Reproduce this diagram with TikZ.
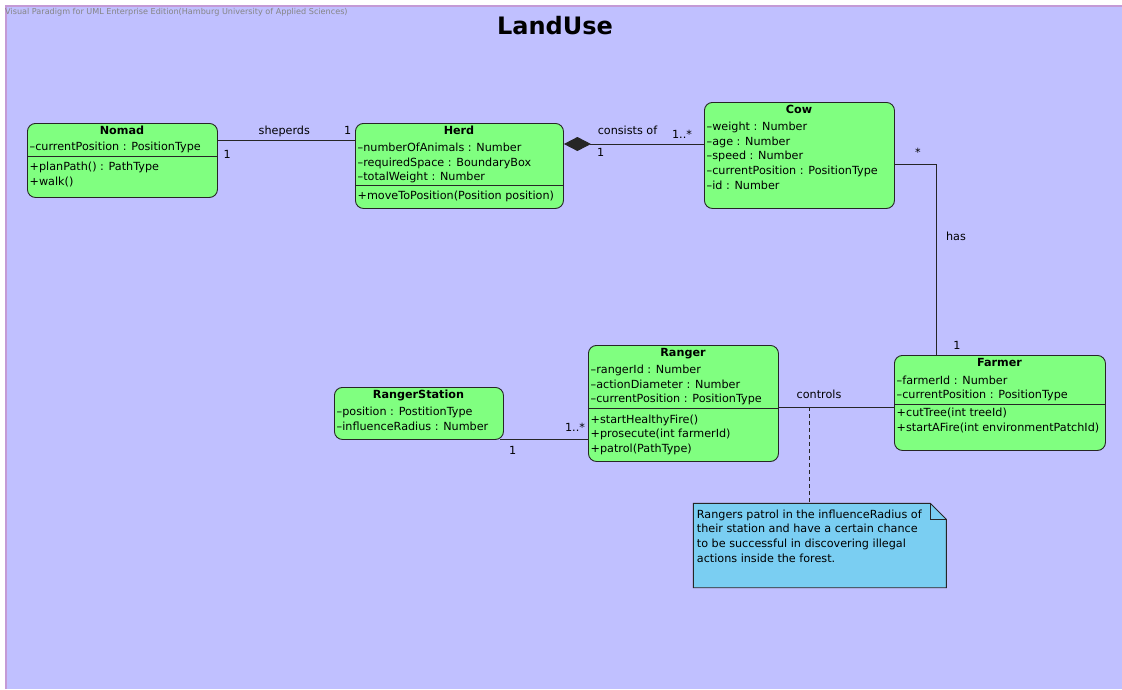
\documentclass[tikz,border=0pt]{standalone}
\usepackage{fontspec}
\setmainfont{DejaVu Sans}
\usetikzlibrary{arrows.meta,calc}

\definecolor{panelbg}{HTML}{C0C0FF}
\definecolor{panelrim}{HTML}{C49AD6}
\definecolor{classfill}{HTML}{80FF80}
\definecolor{notefill}{HTML}{7ACEF2}
\definecolor{inkline}{HTML}{262626}
\definecolor{marktext}{HTML}{858585}

% one text row per entry, 14.8pt apart, starting at the given baseline
\newcommand\umlrows[4]{%
  \foreach \rowtxt [count=\k] in {#4}{%
    \node[rowtext] (#1-\k) at ({#2},{#3+14.8*(\k-1)}) {\rowtxt};}}

\begin{document}
\begin{tikzpicture}[x=1pt,y=-1pt,
  classbox/.style={draw=inkline, fill=classfill, rounded corners=8pt,
    line width=0.9pt, inner sep=0pt, anchor=north west},
  rowtext/.style={font=\fontsize{11.2}{13}\selectfont, anchor=base west,
    inner sep=0pt, text=black},
  classname/.style={font=\bfseries\fontsize{11.2}{13}\selectfont, anchor=base,
    inner sep=0pt, text=black},
  rolelabel/.style={font=\fontsize{11.2}{13}\selectfont, anchor=base,
    inner sep=0pt, text=black},
  divider/.style={draw=inkline, line width=0.9pt},
  assoc/.style={draw=inkline, line width=0.9pt},
]
\useasboundingbox (0,0) rectangle (1122,689);
\fill[white] (0,0) rectangle (1122,689);

% diagram frame
\fill[panelbg] (6,6) rectangle (1122,689);
\draw[panelrim, line width=1.2pt] (6,689) -- (6,6) -- (1122,6);
\node[anchor=base west, inner sep=0pt, text=marktext,
  font=\fontsize{8.1}{10}\selectfont] (mark) at (5,14.5)
  {Visual Paradigm for UML Enterprise Edition(Hamburg University of Applied Sciences)};
\node[anchor=base, inner sep=0pt, font=\bfseries\fontsize{24}{28}\selectfont]
  (title) at (555,34.5) {LandUse};

% ---------- Nomad ----------
\node[classbox, minimum width=190pt, minimum height=74pt] (nomad) at (27,123) {};
\node[classname] (nomad-t) at (122,134) {Nomad};
\umlrows{nomad-a}{29.5}{150.5}{–currentPosition : PositionType}
\path (nomad.north west) ++(0,33.7) coordinate (nomad-s);
\draw[divider] (nomad-s) -- (nomad-s -| nomad.east);
\umlrows{nomad-m}{29.5}{170.3}{+planPath() : PathType,+walk()}

% ---------- Herd ----------
\node[classbox, minimum width=208pt, minimum height=85pt] (herd) at (355,123) {};
\node[classname] (herd-t) at (459,134) {Herd};
\umlrows{herd-a}{357.5}{151.3}{–numberOfAnimals : Number,–requiredSpace : BoundaryBox,–totalWeight : Number}
\path (herd.north west) ++(0,62.7) coordinate (herd-s);
\draw[divider] (herd-s) -- (herd-s -| herd.east);
\umlrows{herd-m}{357.5}{199.7}{+moveToPosition(Position position)}

% ---------- Cow ----------
\node[classbox, minimum width=190pt, minimum height=106pt] (cow) at (704,102) {};
\node[classname] (cow-t) at (799,113.4) {Cow};
\umlrows{cow-a}{706.5}{130.2}{–weight : Number,–age : Number,–speed : Number,–currentPosition : PositionType,–id : Number}

% ---------- Ranger ----------
\node[classbox, minimum width=190pt, minimum height=116pt] (ranger) at (588,345) {};
\node[classname] (ranger-t) at (683,356.7) {Ranger};
\umlrows{ranger-a}{590.5}{373.3}{–rangerId : Number,–actionDiameter : Number,–currentPosition : PositionType}
\path (ranger.north west) ++(0,63.3) coordinate (ranger-s);
\draw[divider] (ranger-s) -- (ranger-s -| ranger.east);
\umlrows{ranger-m}{590.5}{423}{+startHealthyFire(),+prosecute(int farmerId),+patrol(PathType)}

% ---------- RangerStation ----------
\node[classbox, minimum width=169pt, minimum height=52pt] (station) at (334,387) {};
\node[classname] (station-t) at (418.5,398.3) {RangerStation};
\umlrows{station-a}{336.5}{415.7}{–position : PostitionType,–influenceRadius : Number}

% ---------- Farmer ----------
\node[classbox, minimum width=211pt, minimum height=95pt] (farmer) at (894,355) {};
\node[classname] (farmer-t) at (999.5,366.7) {Farmer};
\umlrows{farmer-a}{896.5}{384}{–farmerId : Number,–currentPosition : PositionType}
\path (farmer.north west) ++(0,49) coordinate (farmer-s);
\draw[divider] (farmer-s) -- (farmer-s -| farmer.east);
\umlrows{farmer-m}{896.5}{416.7}{+cutTree(int treeId),+startAFire(int environmentPatchId)}

% ---------- associations ----------
\draw[assoc] ($(nomad.north east)+(0,17.5)$) -- ($(herd.north west)+(0,17.5)$);
\node[rolelabel] (l-sheperds) at (284.3,134) {sheperds};
\node[rolelabel] (l-herd1) at (347.7,134) {1};
\node[rolelabel] (l-nomad1) at (227.3,158) {1};

\draw[assoc, {Diamond[length=27pt,width=14pt]}-]
  ($(herd.north east)+(0,21)$) -- ($(cow.north west)+(0,42)$);
\node[rolelabel] (l-consists) at (627.5,134.2) {consists of};
\node[rolelabel] (l-cowmany) at (682,138.6) {1..*};
\node[rolelabel] (l-herdone) at (600.7,156) {1};

\draw[assoc] ($(cow.north east)+(0,62)$) -| ($(farmer.north west)+(42.7,0)$);
\node[rolelabel] (l-cowstar) at (918,156.5) {*};
\node[rolelabel] (l-has) at (956,240) {has};
\node[rolelabel] (l-farmer1) at (957,349) {1};

\draw[assoc] ($(ranger.north east)+(0,62)$) -- ($(farmer.north west)+(0,52)$);
\coordinate (ctl) at ($(ranger.north east)+(30.5,62)$);
\node[rolelabel] (l-controls) at (819,398) {controls};

\draw[assoc] ($(station.south east)+(-4,0)$) -- (station.south east -| ranger.west);
\node[rolelabel] (l-station1) at (512.7,454) {1};
\node[rolelabel] (l-rangermany) at (575,431) {1..*};

% ---------- note ----------
\node[anchor=north west, minimum width=252.7pt, minimum height=84pt,
  inner sep=0pt] (note) at (693.3,503.3) {};
\filldraw[fill=notefill, draw=inkline, line width=0.9pt]
  (note.north west) -- ($(note.north east)+(-16,0)$) -- ($(note.north east)+(0,16)$)
  -- (note.south east) -- (note.south west) -- cycle;
\draw[inkline, line width=0.9pt]
  ($(note.north east)+(-16,0)$) |- ($(note.north east)+(0,16)$);
\umlrows{note-r}{696.7}{518}{Rangers patrol in the influenceRadius of,their station and have a certain chance,to be successful in discovering illegal,actions inside the forest.}
\draw[assoc, dash pattern=on 4pt off 3pt] (ctl) -- (ctl |- note.north);
\end{tikzpicture}
\end{document}
